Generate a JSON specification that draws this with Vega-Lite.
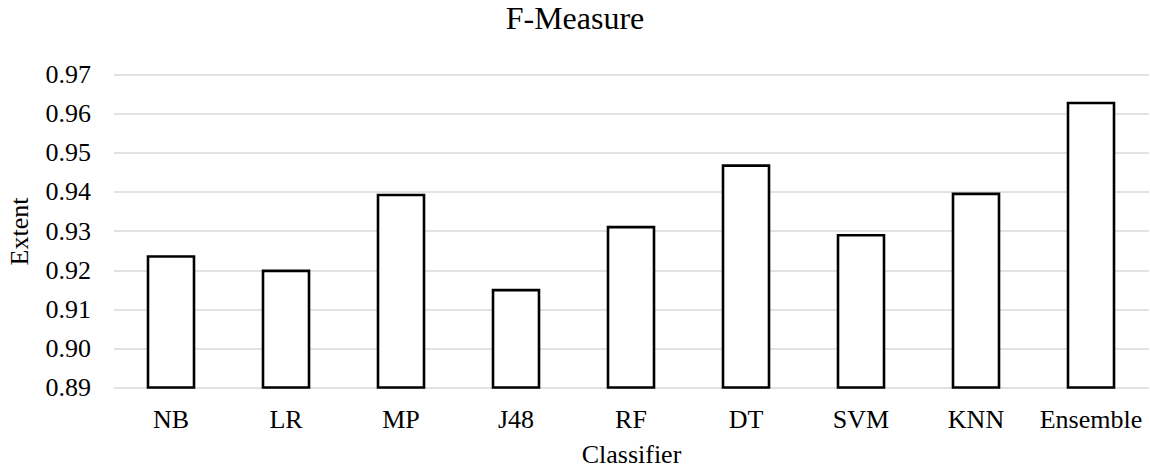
{
  "$schema": "https://vega.github.io/schema/vega-lite/v6.json",
  "autosize": "none",
  "width": 1035,
  "height": 313,
  "padding": {"left": 113.5, "top": 74.5, "right": 1.5, "bottom": 81.5},
  "background": "white",
  "config": {
    "view": {"stroke": null},
    "font": "Liberation Serif",
    "axis": {"labelFont": "Liberation Serif", "titleFont": "Liberation Serif", "labelColor": "#000", "titleColor": "#000", "titleFontWeight": "normal"}
  },
  "title": {
    "text": "F-Measure",
    "font": "Liberation Serif",
    "fontSize": 32,
    "fontWeight": "normal",
    "color": "#000",
    "anchor": "middle",
    "dx": -56,
    "offset": 26
  },
  "data": {
    "values": [
      {"classifier": "NB", "extent": 0.9235},
      {"classifier": "LR", "extent": 0.9198},
      {"classifier": "MP", "extent": 0.9392},
      {"classifier": "J48", "extent": 0.9149},
      {"classifier": "RF", "extent": 0.9310},
      {"classifier": "DT", "extent": 0.9467},
      {"classifier": "SVM", "extent": 0.9289},
      {"classifier": "KNN", "extent": 0.9395},
      {"classifier": "Ensemble", "extent": 0.9627}
    ]
  },
  "mark": {"type": "bar", "fill": "white", "stroke": "black", "strokeWidth": 2.6},
  "encoding": {
    "x": {
      "field": "classifier",
      "type": "nominal",
      "sort": null,
      "scale": {"paddingInner": 0.6, "paddingOuter": 0.3},
      "axis": {
        "title": "Classifier",
        "titleFontSize": 26,
        "labelFontSize": 26,
        "labelAngle": 0,
        "labelPadding": 19,
        "titlePadding": 9,
        "ticks": false,
        "domain": false,
        "grid": false
      }
    },
    "y": {
      "field": "extent",
      "type": "quantitative",
      "scale": {"domain": [0.89, 0.97], "zero": false, "nice": false},
      "axis": {
        "title": "Extent",
        "titleFontSize": 26,
        "labelFontSize": 26,
        "values": [0.89, 0.90, 0.91, 0.92, 0.93, 0.94, 0.95, 0.96, 0.97],
        "format": ".2f",
        "labelPadding": 23,
        "titlePadding": 13,
        "ticks": false,
        "domain": false,
        "grid": true,
        "gridColor": "#d9d9d9",
        "gridWidth": 1.3
      }
    },
    "y2": {"datum": 0.89}
  }
}
